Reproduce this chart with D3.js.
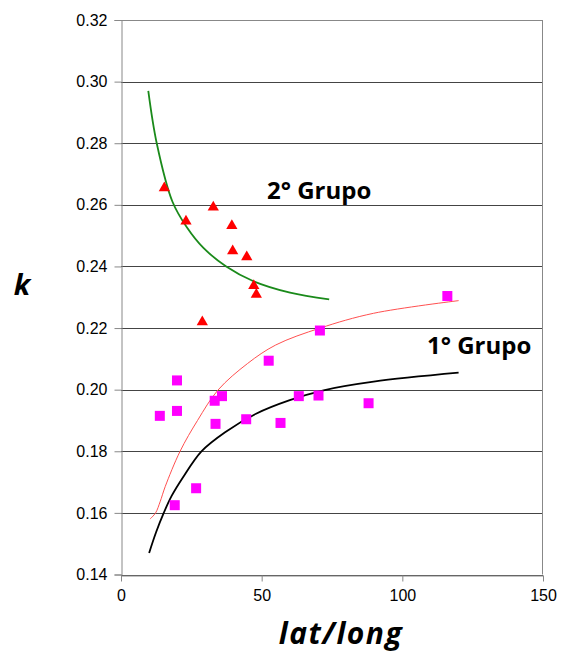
<!DOCTYPE html>
<html>
<head>
<meta charset="utf-8">
<script src="https://cdn.jsdelivr.net/npm/d3@7"></script>
<style>
  body { margin: 0; background: #fff; }
</style>
</head>
<body>
<svg width="561" height="655"></svg>
<script>
// grupo 2 (triangles)
const g2x = [15.4, 23.1, 32.8, 39.4, 39.7, 44.7, 47.2, 48.1, 28.9];
const g2k = [0.2655, 0.2547, 0.2592, 0.2532, 0.2450, 0.2431, 0.2337, 0.2309, 0.2220];

// grupo 1 (squares)
const g1x = [70.7, 52.5, 19.9, 33.3, 35.9, 19.9, 13.8, 33.6, 44.5, 56.7, 63.2, 70.2, 88.0, 26.7, 19.1, 116.0];
const g1k = [0.2192, 0.2094, 0.2030, 0.1964, 0.1979, 0.1931, 0.1915, 0.1889, 0.1904, 0.1892, 0.1979, 0.1981, 0.1956, 0.1680, 0.1625, 0.2304];

// trend lines
const greenX = [9.7, 12.7, 18.3, 23.4, 29.3, 37.4, 47.1, 60.1, 74.0];
const greenK = [0.2970, 0.2800, 0.2610, 0.2527, 0.2460, 0.2400, 0.2352, 0.2315, 0.2293];
const blackX = [10.0, 12.5, 15.2, 18.0, 22.0, 28.6, 37.0, 48.0, 60.0, 72.0, 89.8, 120];
const blackK = [0.1470, 0.1538, 0.1600, 0.1655, 0.1715, 0.1800, 0.1862, 0.1922, 0.1966, 0.1998, 0.2026, 0.2055];
const redX = [10.3, 12.3, 13.9, 15.7, 21.0, 27.2, 34.5, 45.0, 55.0, 70.8, 89.8, 120];
const redK = [0.1580, 0.1600, 0.1636, 0.1685, 0.1800, 0.1900, 0.1999, 0.2085, 0.2145, 0.2200, 0.2248, 0.2289];

const xTicks = [0, 50, 100, 150];
const yTicks = [0.14, 0.16, 0.18, 0.20, 0.22, 0.24, 0.26, 0.28, 0.30, 0.32];

const svg = d3.select("svg");

const x = d3.scaleLinear().domain([0, 150]).range([121, 543]);
const y = d3.scaleLinear().domain([0.14, 0.32]).range([574.5, 20]);

// gridlines
svg.append("g")
    .selectAll("line")
    .data(yTicks)
    .enter().append("line")
    .attr("x1", x(0)).attr("x2", x(150))
    .attr("y1", d => Math.round(y(d)) + 0.5)
    .attr("y2", d => Math.round(y(d)) + 0.5)
    .attr("stroke", d => d === 0.32 ? "#888" : "#444")
    .attr("stroke-width", 1);

// right border
svg.append("line")
    .attr("x1", x(150) - 0.5).attr("x2", x(150) - 0.5)
    .attr("y1", y(0.32)).attr("y2", y(0.14))
    .attr("stroke", "#888");

// y axis
const yAxis = svg.append("g")
    .attr("transform", `translate(${x(0) + 0.5},0)`)
    .call(d3.axisLeft(y).tickValues(yTicks).tickFormat(d3.format(".2f")).tickSize(7).tickPadding(7));
yAxis.select(".domain").attr("stroke", "#888");
yAxis.selectAll(".tick line").attr("stroke", "#888");
yAxis.selectAll("text").attr("font-size", 16).attr("fill", "#000")
    .attr("font-family", "Liberation Sans, Arial, sans-serif");

// x axis
const xAxis = svg.append("g")
    .attr("transform", `translate(0,${Math.round(y(0.14)) + 0.5})`)
    .call(d3.axisBottom(x).tickValues(xTicks).tickSize(6).tickPadding(8).tickSizeOuter(0));
xAxis.select(".domain").attr("stroke", "#888");
xAxis.selectAll(".tick line").attr("stroke", "#888");
xAxis.selectAll("text").attr("font-size", 16).attr("fill", "#000")
    .attr("font-family", "Liberation Sans, Arial, sans-serif");

// trend lines
const line = d3.line().curve(d3.curveCatmullRom.alpha(0.5));
function drawLine(xs, ks, color, w) {
  svg.append("path")
      .datum(xs.map((v, i) => [x(v), y(ks[i])]))
      .attr("d", line)
      .attr("fill", "none")
      .attr("stroke", color)
      .attr("stroke-width", w);
}
drawLine(greenX, greenK, "#1a8a1a", 1.8);
drawLine(blackX, blackK, "#000", 1.8);
drawLine(redX, redK, "#ff5050", 1);

// squares
svg.append("g")
    .selectAll("rect")
    .data(g1x.map((v, i) => ({ x: v, k: g1k[i] })))
    .enter().append("rect")
    .attr("x", d => x(d.x) - 5)
    .attr("y", d => y(d.k) - 5)
    .attr("width", 10)
    .attr("height", 10)
    .attr("fill", "#ff00ff");

// triangles
const tri = d3.symbol().type(d3.symbolTriangle).size(55);
svg.append("g")
    .selectAll("path")
    .data(g2x.map((v, i) => ({ x: v, k: g2k[i] })))
    .enter().append("path")
    .attr("d", tri)
    .attr("transform", d => `translate(${x(d.x)},${y(d.k)})`)
    .attr("fill", "#ff0000");

// text labels
function label(tx, ty, str, size, italic, anchor, spacing) {
  svg.append("text")
      .attr("x", tx).attr("y", ty)
      .attr("text-anchor", anchor || "start")
      .style("font-family", "'Open Sans', sans-serif")
      .style("font-weight", "bold")
      .style("font-style", italic ? "italic" : "normal")
      .style("font-size", size + "px")
      .style("letter-spacing", (spacing || 0) + "px")
      .text(str);
}
label(267, 199, "2° Grupo", 24);
label(427, 354, "1° Grupo", 24);

// axis titles
label(22, 295, "k", 29, true, "middle");
label(341, 644, "lat/long", 30, true, "middle", 1.5);
</script>
</body>
</html>
